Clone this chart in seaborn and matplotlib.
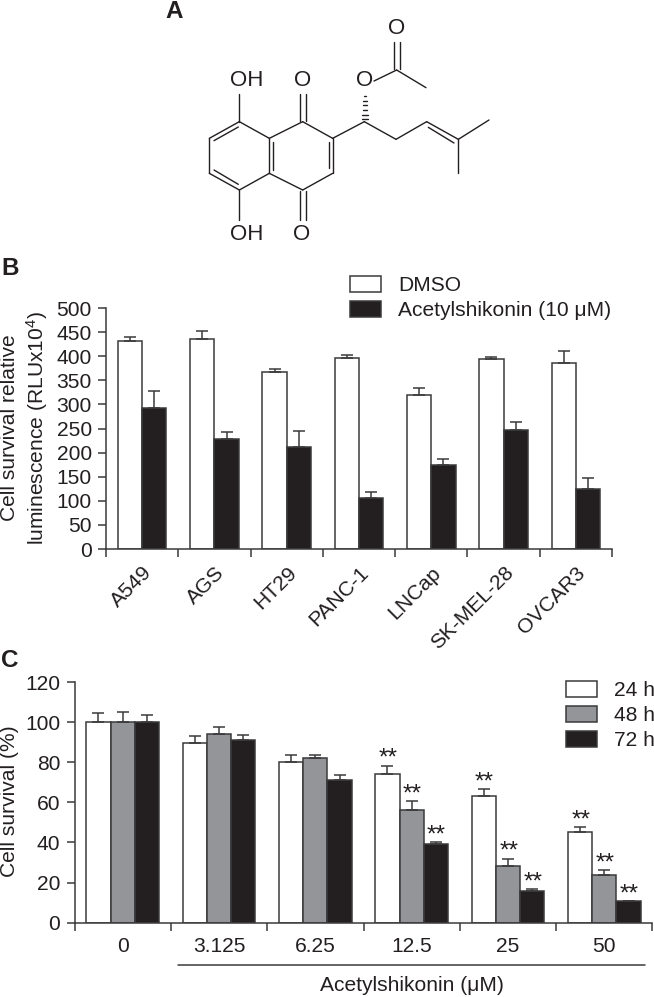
import matplotlib
matplotlib.use("Agg")
import matplotlib.pyplot as plt
import numpy as np
import pandas as pd
import seaborn as sns

cell_lines = ["A549", "AGS", "HT29", "PANC-1", "LNCap", "SK-MEL-28", "OVCAR3"]
dmso_mean = [431.5, 435, 367, 396, 319, 394, 386]
dmso_top = [440.5, 453, 373, 402, 335, 399, 411.5]
acetyl_mean = [293, 227.5, 211.5, 106.5, 173.5, 247.5, 124.5]
acetyl_top = [328, 243, 245.5, 118, 186, 263.5, 147]

doses = ["0", "3.125", "6.25", "12.5", "25", "50"]
h24_mean = [100, 89.6, 80.1, 74, 63, 45.4]
h24_top = [104.4, 92.9, 83.8, 78.3, 66.5, 47.7]
h48_mean = [100, 94.2, 82.3, 56.2, 28.4, 23.9]
h48_top = [105.2, 97.7, 83.8, 60.8, 31.9, 26.1]
h72_mean = [100, 90.9, 71, 39, 15.8, 10.6]
h72_top = [103.7, 93.6, 73.6, 40.4, 16.8, 10.6]
h24_star = [None, None, None, 86.4, 74.3, 55.5]
h48_star = [None, None, None, 68.6, 39.9, 34]
h72_star = [None, None, None, 48.2, 24.6, 18.6]

INK = "#3a3a3c"
BLACK = "#231f20"
GRAY = "#939598"
W, H = 654, 997
FS = 15.1

sns.set_theme(style="ticks")
plt.rcParams["font.family"] = ["Liberation Sans", "DejaVu Sans"]
plt.rcParams["mathtext.fontset"] = "custom"
plt.rcParams["mathtext.rm"] = "Liberation Sans"
plt.rcParams["mathtext.default"] = "regular"

fig = plt.figure(figsize=(W / 100, H / 100), dpi=100)


def make_axes(left, right, top, bottom):
    return fig.add_axes([left / W, 1 - bottom / H, (right - left) / W, (bottom - top) / H])


def draw_panel(ax, cats, series, means, tops, palette, width, ylim, yticks):
    frames = [pd.DataFrame({"cat": cats, "value": m, "group": s}) for s, m in zip(series, means)]
    df = pd.concat(frames)
    sns.barplot(data=df, x="cat", y="value", hue="group", order=cats, hue_order=series,
                palette=palette, edgecolor=INK, linewidth=1.1, width=width, gap=0,
                errorbar=None, saturation=1, ax=ax)
    centers = []
    for cont, m, t in zip(ax.containers, means, tops):
        xs = [p.get_x() + p.get_width() / 2 for p in cont.patches]
        centers.append(xs)
        err = np.array(t) - np.array(m)
        ax.errorbar(xs, m, yerr=[np.zeros_like(err), err], fmt="none", ecolor=INK,
                    elinewidth=1.1, capsize=4.4, capthick=1.1, zorder=1)
    n = len(cats)
    ax.set_xlim(-0.5, n - 0.5)
    ax.set_ylim(*ylim)
    ax.set_yticks(yticks)
    ax.set_xticks(np.arange(n + 1) - 0.5)
    ax.set_xticklabels([])
    ax.set_xticks(np.arange(n), minor=True)
    ax.set_xlabel("")
    ax.set_ylabel("")
    ax.tick_params(axis="both", which="major", length=5.8, width=1.1, color=INK,
                   labelsize=FS, labelcolor="#231f20", pad=4.5)
    ax.tick_params(axis="x", which="minor", length=0, labelsize=FS, labelcolor="#231f20")
    sns.despine(ax=ax)
    for s in ("left", "bottom"):
        ax.spines[s].set_linewidth(1.1)
        ax.spines[s].set_color(INK)
    return centers


def place_legend(ax, x, y):
    h, l = ax.get_legend_handles_labels()
    ax.legend(h, l, loc="upper left", bbox_to_anchor=(x / W, 1 - y / H),
              bbox_transform=fig.transFigure, frameon=False, borderpad=0, borderaxespad=0,
              fontsize=FS, handlelength=1.48, handleheight=0.8, handletextpad=0.8,
              labelspacing=0.26, labelcolor="#231f20")


# panel B
axb = make_axes(106, 612, 308, 549)
draw_panel(axb, cell_lines, ["DMSO", "Acetylshikonin (10 μM)"], [dmso_mean, acetyl_mean],
           [dmso_top, acetyl_top], ["white", BLACK], 0.672, (0, 500), range(0, 501, 50))
axb.set_xticklabels(cell_lines, minor=True, rotation=45, ha="right", rotation_mode="anchor")
axb.tick_params(axis="x", which="minor", pad=10)
place_legend(axb, 350, 276)

# panel C
axc = make_axes(74.5, 652.5, 682, 922.7)
cx = draw_panel(axc, doses, ["24 h", "48 h", "72 h"], [h24_mean, h48_mean, h72_mean],
                [h24_top, h48_top, h72_top], ["white", GRAY, BLACK], 0.754, (0, 120),
                range(0, 121, 20))
axc.set_xticklabels(doses, minor=True)
axc.tick_params(axis="x", which="minor", pad=10)
place_legend(axc, 566, 681)
for xs, stars in zip(cx, [h24_star, h48_star, h72_star]):
    for x, s in zip(xs, stars):
        if s is not None:
            axc.annotate("**", (x, s), xytext=(0.5, -11), textcoords="offset points",
                         ha="center", va="baseline", fontsize=17.5, color="#231f20")

# page overlay: pixel coordinates for the structure, letters, axis titles and dose bracket
ov = fig.add_axes([0, 0, 1, 1], zorder=5)
ov.set_xlim(0, W)
ov.set_ylim(H, 0)
ov.axis("off")
ov.patch.set_alpha(0)

for lab, x, y in [("A", 165, 11), ("B", 1, 268), ("C", 1, 660)]:
    ov.text(x, y, lab, fontsize=17.5, fontweight="bold", color="#231f20", va="center", ha="left")

ov.text(10, 428, "Cell survival relative", rotation=90, fontsize=FS, color="#231f20",
        ha="center", va="center")
ov.text(37, 428, "luminescence (RLUx10$^{4}$)", rotation=90, fontsize=FS, color="#231f20",
        ha="center", va="center")
ov.text(10, 801, "Cell survival (%)", rotation=90, fontsize=FS, color="#231f20",
        ha="center", va="center")

ov.plot([178, 644.7], [965.3, 965.3], color=INK, lw=1.1)
ov.text(411.5, 985, "Acetylshikonin (μM)", fontsize=FS, color="#231f20", ha="center", va="center")

bonds = [
    ((268, 365), (178, 415)), ((178, 415), (178, 520)), ((178, 520), (268, 570)),
    ((268, 570), (358, 520)), ((358, 520), (358, 415)), ((358, 415), (268, 365)),
    ((358, 415), (458, 365)), ((458, 365), (548, 415)), ((548, 415), (548, 520)),
    ((548, 520), (458, 570)), ((458, 570), (358, 520)),
    ((265, 381), (192, 422)), ((192, 510), (265, 553)), ((369, 425), (369, 510)),
    ((536, 425), (536, 505)),
    ((268, 365), (268, 283)), ((268, 570), (268, 660)),
    ((449, 362), (449, 283)), ((467, 362), (467, 283)),
    ((449, 573), (449, 660)), ((467, 573), (467, 660)),
    ((548, 415), (643, 365)), ((672, 243), (740, 210)), ((740, 210), (828, 263)),
    ((731, 208), (731, 125)), ((749, 208), (749, 125)),
    ((643, 365), (738, 418)), ((738, 418), (830, 365)), ((830, 365), (925, 418)),
    ((835, 382), (912, 429)), ((925, 418), (1017, 360)), ((925, 418), (925, 520)),
]
for (x0, y0), (x1, y1) in bonds:
    ov.plot([150 + x0 / 3, 150 + x1 / 3], [y0 / 3, y1 / 3], color=BLACK, lw=1.0,
            solid_capstyle="round")
for y, half in [(358, 9), (344, 8), (330, 7), (316, 6), (302, 5), (288, 4)]:
    ov.plot([150 + (645 - half) / 3, 150 + (645 + half) / 3], [y / 3, y / 3], color=BLACK, lw=1.0)
for lab, x, y in [("OH", 290, 243), ("OH", 290, 703), ("O", 459, 243), ("O", 454, 703),
                  ("O", 645, 243), ("O", 740, 85)]:
    ov.text(150 + x / 3, y / 3, lab, fontsize=16, color="#231f20", ha="center", va="center")

fig.savefig("out.png", dpi=100, facecolor="white")
